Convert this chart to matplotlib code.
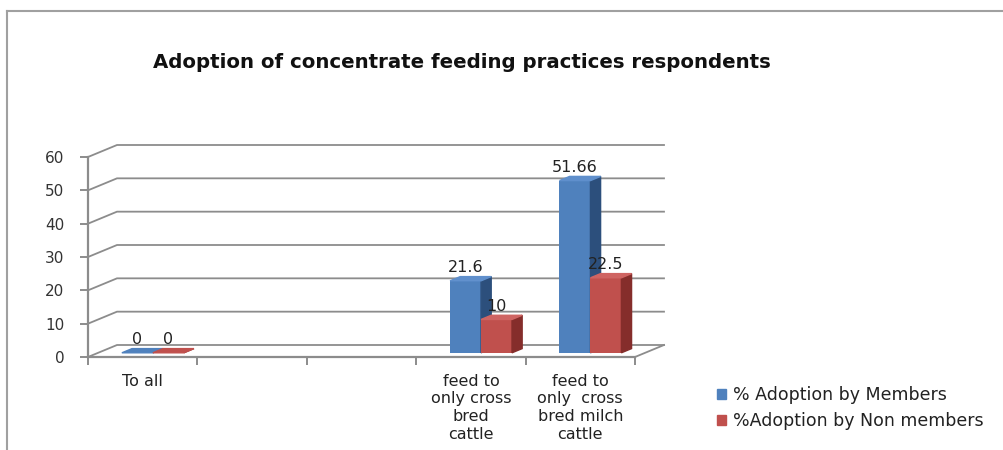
import matplotlib
matplotlib.use("Agg")
import matplotlib.pyplot as plt
from matplotlib.patches import Polygon, Patch
from matplotlib.lines import Line2D

# chart data
categories = ["To all", "", "", "feed to\nonly cross\nbred\ncattle",
              "feed to\nonly  cross\nbred milch\ncattle"]
members = [0, None, None, 21.6, 51.66]
non_members = [0, None, None, 10, 22.5]
series_names = ["% Adoption by Members", "%Adoption by Non members"]
y_ticks = [0, 10, 20, 30, 40, 50, 60]

W, H = 1004, 450
fig = plt.figure(figsize=(W / 100, H / 100), dpi=100)
plt.rcParams['font.family'] = ['DejaVu Sans']

# axes frame in pixels: front axis x 88..635, y 357 (0) .. 157 (60)
ax = fig.add_axes([88 / W, 1 - 357 / H, (635 - 88) / W, (357 - 157) / H])
ax.set_xlim(-0.5, len(categories) - 0.5)
ax.set_ylim(0, 60)
ax.patch.set_alpha(0)

# 3d depth offsets in data units (29 px right, 12 px up)
px_x = len(categories) / (635 - 88)
px_y = 60 / (357 - 157)
DX, DY = 29 * px_x, 12 * px_y
grid_c = "#8c8c8c"

# back wall gridlines + diagonals from the front axis
x0, x1 = -0.5, len(categories) - 0.5
for y in y_ticks:
    ax.plot([x0, x0 + DX, x1 + DX], [y, y + DY, y + DY], color=grid_c,
            lw=1.3, clip_on=False, zorder=1)
ax.plot([x1, x1 + DX], [0, DY], color=grid_c, lw=1.3, clip_on=False, zorder=1)

for s in ["top", "right"]:
    ax.spines[s].set_visible(False)
for s in ["left", "bottom"]:
    ax.spines[s].set_color(grid_c)
    ax.spines[s].set_linewidth(1.6)

ax.set_yticks(y_ticks)
ax.set_yticklabels([str(t) for t in y_ticks], fontsize=11, color="#333333")
ax.tick_params(axis="y", direction="out", length=6, color=grid_c, width=1.4, pad=11)

ax.set_xticks(range(len(categories)))
ax.set_xticklabels(categories, fontsize=11.5, color="#222222", linespacing=1.22, va="top")
ax.set_xticks([i - 0.5 for i in range(len(categories) + 1)], minor=True)
ax.tick_params(axis="x", which="major", length=0, pad=12)
ax.tick_params(axis="x", which="minor", direction="out", length=6, color=grid_c, width=1.4)

# 3d bars
w = 0.283
sx, sy = 0.35 * DX, 0.35 * DY
bd, bdy = 0.35 * DX, 0.35 * DY
styles = [("#4f81bd", "#2c4f7c", "#5f8fcc"), ("#c0504d", "#852d2b", "#cf6462")]
for k, vals in enumerate([members, non_members]):
    front, side, top = styles[k]
    for i, v in enumerate(vals):
        if v is None:
            continue
        xc = i + (k - 0.5) * w + sx
        xl, xr = xc - w / 2, xc + w / 2
        b = sy
        ax.bar(xc, v, width=w, bottom=b, color=front, zorder=3 + k, clip_on=False)
        ax.add_patch(Polygon([(xr, b), (xr + bd, b + bdy), (xr + bd, b + v + bdy), (xr, b + v)],
                             closed=True, color=side, zorder=3 + k, clip_on=False))
        ax.add_patch(Polygon([(xl, b + v), (xl + bd, b + v + bdy), (xr + bd, b + v + bdy), (xr, b + v)],
                             closed=True, color=top if v > 0 else front, zorder=3 + k, clip_on=False))
        ax.text(xc, b + v + 4, f"{v:g}", ha="center", va="center", fontsize=11.5,
                color="#222222", zorder=6, clip_on=False)

fig.text(462 / W, 1 - 62 / H, "Adoption of concentrate feeding practices respondents",
         ha="center", va="center", fontsize=14.2, fontweight="bold", color="#111111")

handles = [Patch(color=styles[0][0]), Patch(color=styles[1][0])]
fig.legend(handles, series_names, loc="center left", bbox_to_anchor=(701 / W, 1 - 408 / H),
           frameon=False, fontsize=12.5, handlelength=0.55, handleheight=0.55,
           handletextpad=0.4, labelspacing=0.45, labelcolor="#222222")

# outer chart frame (top and left edges)
fig.add_artist(Line2D([7 / W, 1], [1 - 11 / H, 1 - 11 / H], color="#a0a0a0", lw=1.5))
fig.add_artist(Line2D([7 / W, 7 / W], [0, 1 - 11 / H], color="#a0a0a0", lw=1.5))

fig.savefig("out.png", dpi=100)
